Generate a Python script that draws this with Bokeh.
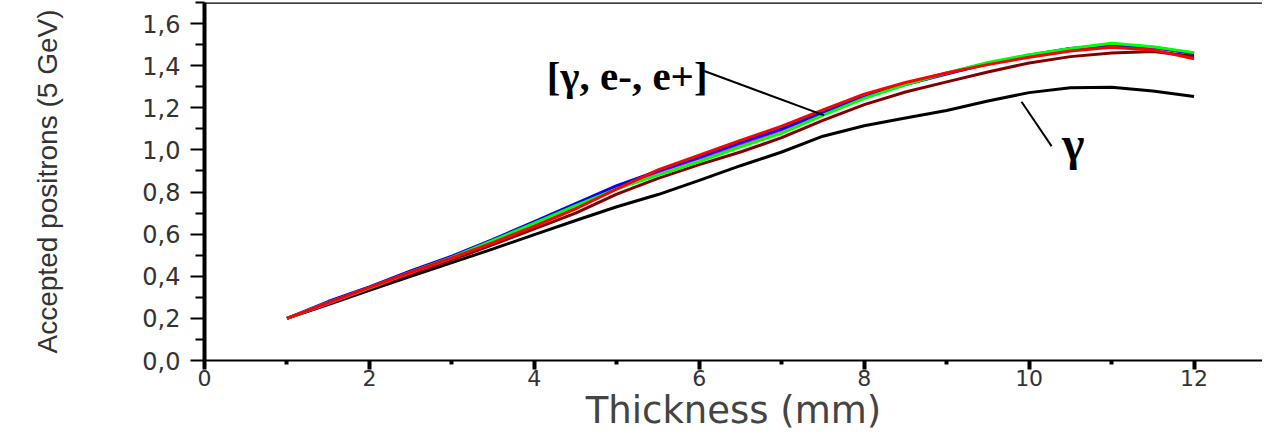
from bokeh.plotting import figure
from bokeh.models import Range1d, FixedTicker, CustomJSTickFormatter, Span, Label, Arrow
from bokeh.embed import file_html
from bokeh.resources import INLINE

# ---------------- data ----------------
thickness_mm = [1, 1.5, 2, 2.5, 3, 3.5, 4, 4.5, 5, 5.5, 6, 6.5,
                7, 7.5, 8, 8.5, 9, 9.5, 10, 10.5, 11, 11.5, 12]

gamma_only = [0.200, 0.265, 0.333, 0.400, 0.465, 0.530, 0.598, 0.665, 0.730, 0.788, 0.855, 0.925,
              0.990, 1.065, 1.115, 1.152, 1.187, 1.232, 1.272, 1.295, 1.298, 1.280, 1.254]
mix_maroon = [0.200, 0.270, 0.340, 0.410, 0.478, 0.550, 0.625, 0.700, 0.790, 0.865, 0.930, 0.990,
              1.058, 1.140, 1.215, 1.275, 1.323, 1.370, 1.413, 1.443, 1.460, 1.467, 1.445]
mix_magenta = [0.200, 0.272, 0.345, 0.418, 0.488, 0.562, 0.645, 0.730, 0.815, 0.895, 0.960, 1.025,
               1.095, 1.175, 1.250, 1.315, 1.365, 1.410, 1.450, 1.480, 1.496, 1.485, 1.460]
mix_blue = [0.200, 0.280, 0.350, 0.425, 0.495, 0.575, 0.660, 0.745, 0.830, 0.900, 0.965, 1.035,
            1.100, 1.180, 1.250, 1.310, 1.360, 1.410, 1.450, 1.482, 1.498, 1.488, 1.458]
mix_green = [0.200, 0.275, 0.345, 0.420, 0.490, 0.570, 0.652, 0.735, 0.815, 0.880, 0.945, 1.015,
             1.080, 1.165, 1.245, 1.310, 1.365, 1.415, 1.452, 1.482, 1.506, 1.490, 1.462]
mix_red = [0.200, 0.275, 0.347, 0.420, 0.487, 0.560, 0.637, 0.720, 0.815, 0.905, 0.975, 1.045,
           1.113, 1.190, 1.265, 1.320, 1.365, 1.405, 1.440, 1.470, 1.488, 1.475, 1.433]

x_major_ticks = [0, 2, 4, 6, 8, 10, 12]
x_minor_ticks = [1, 3, 5, 7, 9, 11]
y_major_ticks = [0.0, 0.2, 0.4, 0.6, 0.8, 1.0, 1.2, 1.4, 1.6]
y_minor_ticks = [0.1, 0.3, 0.5, 0.7, 0.9, 1.1, 1.3, 1.5, 1.7]

series = [
    (gamma_only, "#000000"),
    (mix_maroon, "#800000"),
    (mix_magenta, "#FF00FF"),
    (mix_blue, "#0000FF"),
    (mix_green, "#00FF00"),
    (mix_red, "#FF0000"),
]

# ---------------- figure ----------------
p = figure(width=1262, height=436, output_backend="svg", toolbar_location=None,
           x_range=Range1d(0, 12.83), y_range=Range1d(0, 1.7),
           min_border_left=204, min_border_right=0, min_border_top=2, min_border_bottom=76,
           background_fill_color="white", border_fill_color="white")
p.outline_line_color = None
p.grid.visible = False

for ys, col in series:
    p.line(thickness_mm, ys, line_color=col, line_width=3)

# top frame line
p.add_layout(Span(location=1.7, dimension="width", line_color="black", line_width=2.5))

# x axis
xa = p.xaxis[0]
xa.ticker = FixedTicker(ticks=x_major_ticks, minor_ticks=x_minor_ticks)
xa.axis_line_width = 2
xa.axis_line_color = "black"
xa.major_tick_in = 0
xa.major_tick_out = 9
xa.major_tick_line_width = 4
xa.minor_tick_in = 0
xa.minor_tick_out = 4
xa.minor_tick_line_width = 4
xa.major_label_standoff = 0
xa.major_label_text_font = "DejaVu Sans"
xa.major_label_text_font_size = "22px"
xa.major_label_text_color = "#333333"
xa.axis_label = "Thickness (mm)"
xa.axis_label_text_font = "DejaVu Sans"
xa.axis_label_text_font_style = "normal"
xa.axis_label_text_font_size = "37px"
xa.axis_label_text_color = "#444444"
xa.axis_label_standoff = 0

# y axis
ya = p.yaxis[0]
ya.ticker = FixedTicker(ticks=y_major_ticks, minor_ticks=y_minor_ticks)
ya.formatter = CustomJSTickFormatter(code="return tick.toFixed(1).replace('.', ',');")
ya.axis_line_width = 4
ya.axis_line_color = "black"
ya.major_tick_in = 0
ya.major_tick_out = 14
ya.major_tick_line_width = 2
ya.minor_tick_in = 0
ya.minor_tick_out = 9
ya.minor_tick_line_width = 2
ya.major_label_standoff = 10
ya.major_label_text_font = "DejaVu Sans"
ya.major_label_text_font_size = "24px"
ya.major_label_text_color = "#333333"
ya.axis_label = "Accepted positrons (5 GeV)"
ya.axis_label_text_font = "Liberation Sans"
ya.axis_label_text_font_style = "normal"
ya.axis_label_text_font_size = "28px"
ya.axis_label_text_color = "#333333"
ya.axis_label_standoff = 76

# annotations
p.add_layout(Label(x=4.15, y=1.351, text="[γ, e-, e+]", text_font="Liberation Serif",
                   text_font_style="bold", text_font_size="41px",
                   text_align="left", text_baseline="alphabetic", text_color="black"))
p.add_layout(Arrow(end=None, x_start=6.06, y_start=1.375, x_end=7.515, y_end=1.164,
                   line_color="black", line_width=2))
p.add_layout(Label(x=10.4, y=1.03, text="γ", text_font="Liberation Serif",
                   text_font_style="bold", text_font_size="48px",
                   text_align="left", text_baseline="alphabetic", text_color="black"))
p.add_layout(Arrow(end=None, x_start=9.908, y_start=1.229, x_end=10.272, y_end=1.018,
                   line_color="black", line_width=2))

open("out.html", "w").write(file_html(p, INLINE))
